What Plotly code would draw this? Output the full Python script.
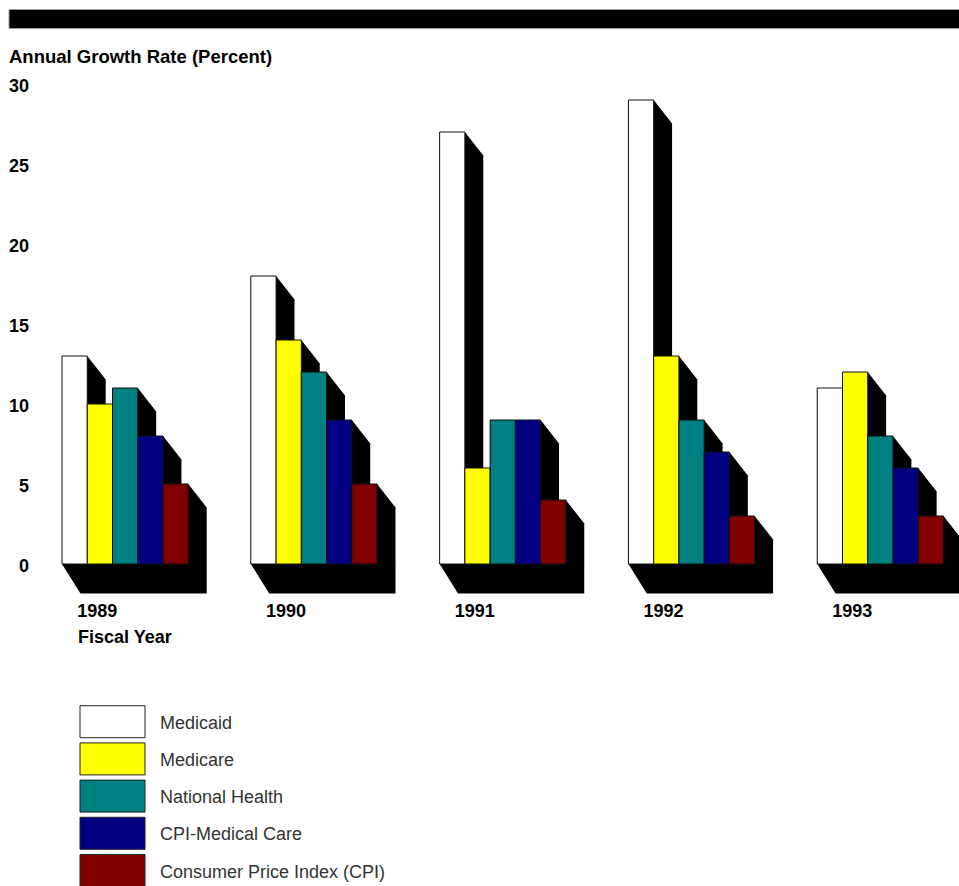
import plotly.graph_objects as go

# ---- data -------------------------------------------------------------
years = ["1989", "1990", "1991", "1992", "1993"]
series_names = [
    "Medicaid",
    "Medicare",
    "National Health",
    "CPI-Medical Care",
    "Consumer Price Index (CPI)",
]
medicaid = [13, 18, 27, 29, 11]
medicare = [10, 14, 6, 13, 12]
national_health = [11, 12, 9, 9, 8]
cpi_medical_care = [8, 9, 9, 7, 6]
cpi = [5, 5, 4, 3, 3]
y_ticks = [0, 5, 10, 15, 20, 25, 30]

series_values = [medicaid, medicare, national_health, cpi_medical_care, cpi]
colors = ["#FFFFFF", "#FFFF00", "#008080", "#000080", "#800000"]

# ---- geometry (pixels) ------------------------------------------------
W, H = 959, 886
PL, PR = 30, 959          # plot area left/right
PT, PB = 76, 596          # plot area top/bottom
X_UNIT = 188.8            # px between year groups
Y_UNIT = 16.0             # px per percentage point
BASE_PX = 564             # pixel row of y = 0
GROUP0_PX = 125.15        # pixel column of the first group's centre

x_lo = (PL - GROUP0_PX) / X_UNIT
x_hi = (PR - GROUP0_PX) / X_UNIT
y_hi = (BASE_PX - PT) / Y_UNIT
y_lo = (BASE_PX - PB) / Y_UNIT

bar_w = 25.25 / X_UNIT
n_series = len(series_values)
depth_x = 18.4 / X_UNIT
depth_top = 23.5 / Y_UNIT
depth_floor = 29.5 / Y_UNIT

FONT = "Liberation Sans, Arial, Helvetica, sans-serif"


def fx(px):
    return (px - PL) / (PR - PL)


def fy(py):
    return (PB - py) / (PB - PT)


fig = go.Figure()
shapes = []
x_idx = list(range(len(years)))

# bars plus their black extruded shadows
for j, (name, vals, col) in enumerate(zip(series_names, series_values, colors)):
    off = -n_series / 2 * bar_w + j * bar_w
    fig.add_trace(
        go.Bar(
            x=x_idx,
            y=vals,
            name=name,
            width=bar_w,
            offset=off,
            marker=dict(color=col, line=dict(color="#111111", width=1)),
            showlegend=False,
            hoverinfo="x+y+name",
        )
    )
    for g, v in zip(x_idx, vals):
        L = g + off
        R = L + bar_w
        path = (
            f"M {L},{v} L {R},{v} L {R + depth_x},{v - depth_top} "
            f"L {R + depth_x},{-depth_floor} L {L + depth_x},{-depth_floor} "
            f"L {L},0 Z"
        )
        shapes.append(
            dict(type="path", path=path, xref="x", yref="y",
                 fillcolor="black", line=dict(width=0), layer="below")
        )

# black band across the top
shapes.append(
    dict(type="rect", xref="paper", yref="paper",
         x0=fx(9), x1=fx(960), y0=fy(28.5), y1=fy(9.5),
         fillcolor="black", line=dict(color="#9a9a9a", width=1))
)

# legend swatches
annotations = []
LEG_TOP = 705.7
LEG_STEP = 37.2
for k, (name, col) in enumerate(zip(series_names, colors)):
    top = LEG_TOP + k * LEG_STEP
    shapes.append(
        dict(type="rect", xref="paper", yref="paper",
             x0=fx(80), x1=fx(145), y0=fy(top + 32), y1=fy(top),
             fillcolor=col, line=dict(color="#222222", width=1))
    )
    annotations.append(
        dict(text=name, xref="paper", yref="paper",
             x=fx(158), y=fy(top + 17), xanchor="left", yanchor="middle",
             showarrow=False, font=dict(family=FONT, size=18, color="#333333"))
    )

annotations.append(
    dict(text="<b>Annual Growth Rate (Percent)</b>", xref="paper", yref="paper",
         x=fx(6.5), y=fy(56.5), xanchor="left", yanchor="middle", showarrow=False,
         font=dict(family=FONT, size=18.5, color="black"))
)
annotations.append(
    dict(text="<b>Fiscal Year</b>", xref="paper", yref="paper",
         x=fx(75.5), y=fy(637), xanchor="left", yanchor="middle", showarrow=False,
         font=dict(family=FONT, size=18, color="black"))
)

fig.update_layout(
    width=W,
    height=H,
    margin=dict(l=PL, r=W - PR, t=PT, b=H - PB, pad=0),
    paper_bgcolor="white",
    plot_bgcolor="rgba(0,0,0,0)",
    barmode="overlay",
    shapes=shapes,
    annotations=annotations,
    showlegend=False,
    xaxis=dict(
        range=[x_lo, x_hi],
        tickvals=x_idx,
        ticktext=years,
        tickfont=dict(family=FONT, size=18, color="black", weight="bold"),
        ticklabelshift=-28,
        ticklabelstandoff=2,
        showgrid=False,
        zeroline=False,
        showline=False,
        ticks="",
        fixedrange=True,
    ),
    yaxis=dict(
        range=[y_lo, y_hi],
        tickvals=y_ticks,
        ticktext=[str(t) for t in y_ticks],
        tickfont=dict(family=FONT, size=18, color="black", weight="bold"),
        ticklabelshift=2,
        showgrid=False,
        zeroline=False,
        showline=False,
        ticks="",
        fixedrange=True,
    ),
)

fig.write_html("out.html")
